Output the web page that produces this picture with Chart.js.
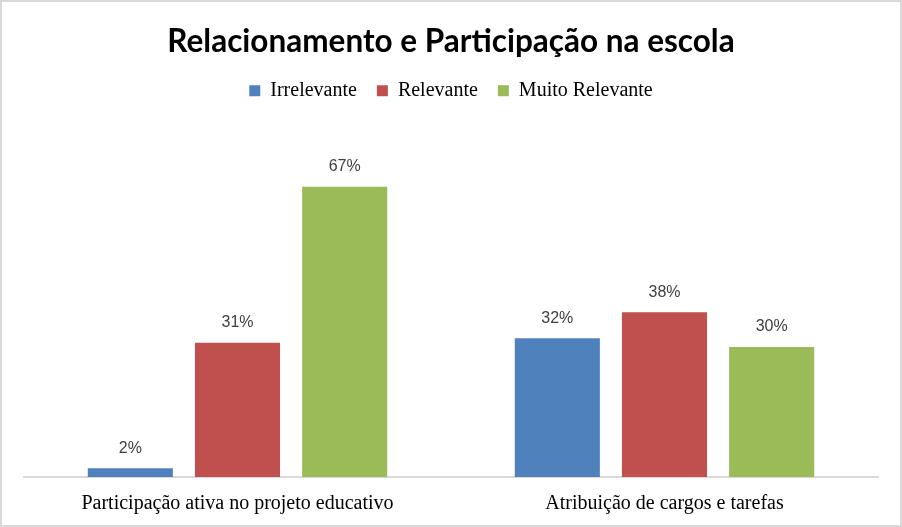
<!DOCTYPE html>
<html>
<head>
<meta charset="utf-8">
<script src="https://cdn.jsdelivr.net/npm/chart.js@4"></script>
<style>
    body { margin: 0; background: #fff; }
    #wrap { position: relative; width: 902px; height: 527px; }
    #wrap::after { content: ""; position: absolute; left: 0; top: 0; right: 0; bottom: 0; border: 2px solid #d9d9d9; pointer-events: none; }
</style>
</head>
<body>
<div id="wrap"><canvas id="barChart" width="902" height="527"></canvas></div>
<script>
const categories = ['Participação ativa no projeto educativo', 'Atribuição de cargos e tarefas'];
const irrelevante = [2, 32];
const relevante = [31, 38];
const muitoRelevante = [67, 30];

// percent labels on top of each bar
const barLabels = {
    id: 'barLabels',
    afterDatasetsDraw(chart){
        const ctx = chart.ctx;
        ctx.save();
        ctx.font = '16px "Liberation Sans"';
        ctx.fillStyle = '#404040';
        ctx.textAlign = 'center';
        ctx.textBaseline = 'bottom';
        chart.data.datasets.forEach(function(ds, i){
            chart.getDatasetMeta(i).data.forEach(function(bar, j){
                ctx.fillText(ds.data[j] + '%', bar.x, bar.y - 12);
            });
        });
        ctx.restore();
    }
};

document.addEventListener("DOMContentLoaded", function () {

    new Chart(document.getElementById("barChart"), {
        type: 'bar',
        data: {
            labels: categories,
            datasets: [
                { label: 'Irrelevante', data: irrelevante, backgroundColor: '#4f81bd' },
                { label: 'Relevante', data: relevante, backgroundColor: '#c0504d' },
                { label: 'Muito Relevante', data: muitoRelevante, backgroundColor: '#9bbb59' }
            ]
        },
        options: {
            responsive: false,
            animation: false,
            layout: { padding: { left: 24, right: 24, top: 23, bottom: 4 } },
            datasets: { bar: { categoryPercentage: 0.753, barPercentage: 0.794 } },
            plugins: {
                title: {
                    display: true,
                    text: 'Relacionamento e Participação na escola',
                    color: '#000',
                    font: { family: 'Lato', size: 31.5, weight: 'bold' },
                    padding: { top: 0, bottom: 0 }
                },
                legend: {
                    labels: {
                        boxWidth: 11,
                        boxHeight: 11,
                        padding: 20,
                        color: '#000',
                        font: { family: '"Liberation Serif"', size: 20 }
                    }
                },
                tooltip: { enabled: false }
            },
            scales: {
                x: {
                    grid: { display: false },
                    border: { color: '#d9d9d9', width: 2 },
                    ticks: { color: '#000', padding: 7, font: { family: '"Liberation Serif"', size: 20 } }
                },
                y: {
                    display: false,
                    min: 0,
                    max: 84.5
                }
            }
        },
        plugins: [barLabels]
    });

});
</script>
</body>
</html>
